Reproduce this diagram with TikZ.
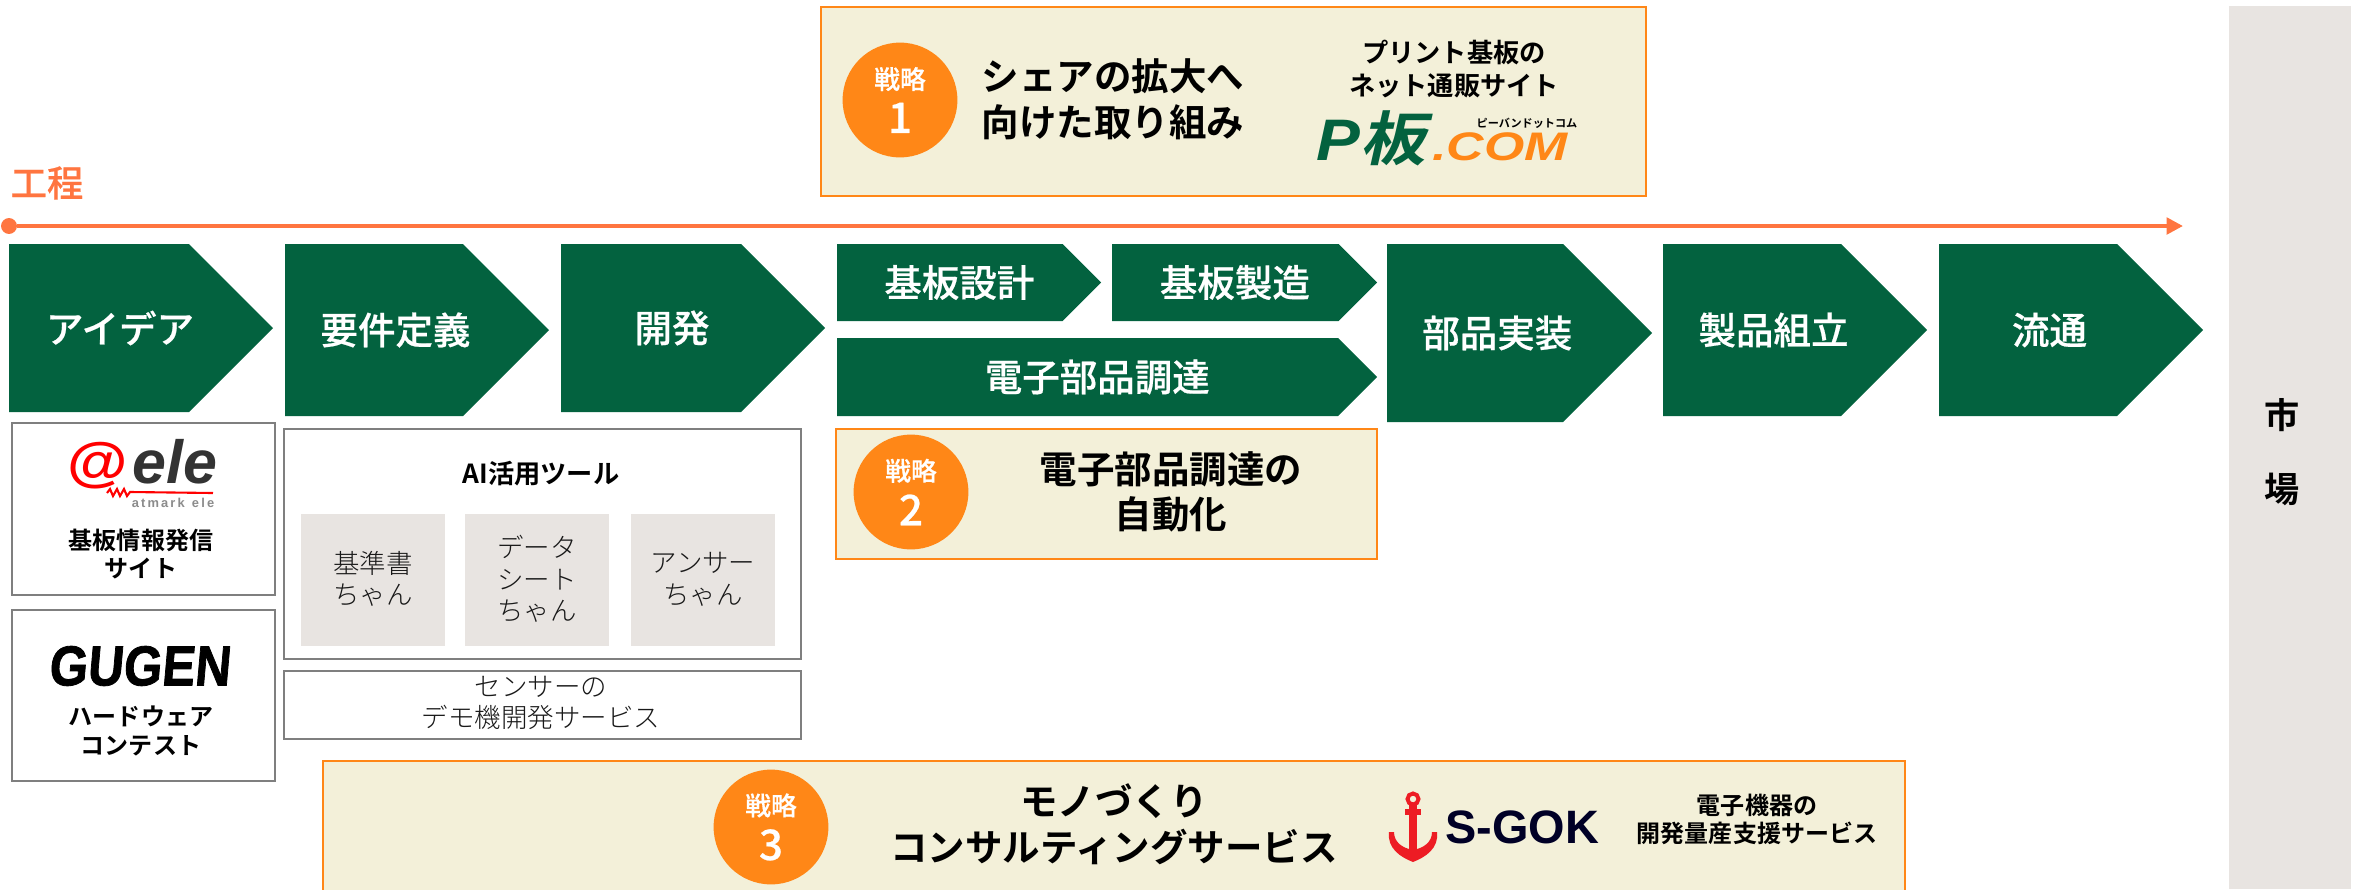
\documentclass[tikz,border=0pt]{standalone}
\usepackage{fontspec}
\setmainfont{Noto Sans CJK JP}[BoldFont={Noto Sans CJK JP Bold}]
\newfontfamily\lightjp{Noto Sans CJK JP Light}
\newfontfamily\mediumjp{Noto Sans CJK JP Medium}[FakeBold=0.5]
\newfontfamily\logoslant{Liberation Sans Bold Italic}
\newfontfamily\logoupright{Liberation Sans Bold}
\newfontfamily\gugenfont{Liberation Sans Bold}[FakeSlant=0.1,FakeBold=1.5]
\usetikzlibrary{arrows.meta}
\definecolor{stepgreen}{HTML}{03623F}
\definecolor{lineorange}{HTML}{FF7540}
\definecolor{markorange}{HTML}{FF8717}
\definecolor{panelcream}{HTML}{F3F0D9}
\definecolor{tilegrey}{HTML}{E8E4E1}
\definecolor{framegrey}{HTML}{7F7F7F}
\definecolor{logored}{HTML}{ED1C24}
\tikzset{
  steplabel/.style={text=white,font=\fontsize{32}{36}\selectfont\mediumjp},
  panel/.style={draw=markorange,line width=2.3pt,fill=panelcream},
  boxframe/.style={draw=framegrey,line width=2.5pt,fill=white},
  tile/.style={fill=tilegrey},
  badge/.style={circle,fill=markorange,inner sep=0pt,minimum size=98pt,text=white,align=center},
  lead/.style={align=center,font=\fontsize{32}{39}\selectfont\bfseries},
  notetext/.style={align=center,font=\fontsize{20.5}{24}\selectfont\bfseries},
  lighttext/.style={align=center,text=black!90,font=\fontsize{22.6}{27}\selectfont\lightjp},
}
% pentagon: name, left, tip, top, bottom, text
\newcommand{\stepshape}[6]{
  \fill[stepgreen] (#2,#4) -- ({#3-(#5-#4)/2},#4) -- (#3,{(#4+#5)/2}) -- ({#3-(#5-#4)/2},#5) -- (#2,#5) -- cycle;
  \node[steplabel] (#1) at ({(#2+#3)/2-(#5-#4)/8},{(#4+#5)/2}) {#6};
}
\newcommand{\badgetext}[1]{{\fontsize{22}{26}\selectfont\mediumjp 戦略}\\[9pt]{\fontsize{36}{30}\selectfont\mediumjp #1}}
\begin{document}
\begin{tikzpicture}[x=0.03cm,y=-0.03cm]
    \useasboundingbox (0,0) rectangle (2366,889);

    % process line
    \node[lineorange,font=\fontsize{31}{36}\selectfont\mediumjp] (koutei) at (47,183) {工程};
    \node[circle,fill=lineorange,inner sep=0pt,minimum size=13.6pt] (linestart) at (9,226) {};
    \coordinate (lineend) at (2183,226);
    \draw[lineorange,line width=3.4pt,-{Triangle[length=14pt,width=14pt]}] (linestart) -- (lineend);

    \stepshape{idea}{9}{273}{244}{412}{アイデア}
    \stepshape{youken}{285}{549}{244}{416}{要件定義}
    \stepshape{kaihatsu}{561}{825}{244}{412}{開発}
    \stepshape{sekkei}{837}{1101}{244}{321}{基板設計}
    \stepshape{seizou}{1112}{1377}{244}{321}{基板製造}
    \stepshape{chotatsu}{837}{1377}{338}{416}{電子部品調達}
    \stepshape{jisso}{1387}{1652}{244}{422}{部品実装}
    \stepshape{kumitate}{1663}{1927}{244}{416}{製品組立}
    \stepshape{ryutsu}{1939}{2203}{244}{416}{流通}

    % market
    \fill[tilegrey] (2229,6) rectangle (2351,889);
    \node[font=\fontsize{30}{36}\selectfont\bfseries] (ichi) at (2282,415) {市};
    \node[font=\fontsize{30}{36}\selectfont\bfseries] (ba) at (2282,489) {場};

    % strategy 1
    \draw[panel] (821,7) rectangle (1646,196);
    \node[badge] (badgeone) at (900,100) {\badgetext{1}};
    \node[lead] (shareup) at (1113,99) {シェアの拡大へ\\向けた取り組み};
    \node[notetext,font=\fontsize{22.4}{28}\selectfont\bfseries] (pcbsite) at (1454,69) {プリント基板の\\ネット通販サイト};
    \node[stepgreen,inner sep=0pt,anchor=west,xscale=1.12,font=\fontsize{50}{50}\selectfont\logoslant] (pban) at (1316,138) {P{\fontspec{Noto Sans CJK JP Bold}[FakeSlant=0.2]板}};
    \node[markorange,inner sep=0pt,anchor=west,xscale=1.3,font=\fontsize{34}{34}\selectfont\logoslant] (pcom) at (1432,147) {.COM};
    \node[inner sep=0pt,font=\fontsize{9.5}{12}\selectfont\bfseries] (pruby) at (1527,123) {ピーバンドットコム};

    % strategy 2
    \draw[panel] (836,429) rectangle (1377,559);
    \node[badge] (badgetwo) at (911,492) {\badgetext{2}};
    \node[lead] (auto) at (1171,492) {電子部品調達の\\自動化};

    % strategy 3
    \draw[panel] (323,761) rectangle (1905,900);
    \node[badge] (badgethree) at (771,827) {\badgetext{3}};
    \node[lead] (consult) at (1114,824) {モノづくり\\コンサルティングサービス};
    \fill[logored] (1405,809) rectangle (1421,815);
    \fill[logored] (1409,805) rectangle (1417,855);
    \draw[logored,line width=3.4pt] (1413,799) circle (5.5);
    \fill[logored] (1389,832) .. controls (1387,848) and (1400,857) .. (1413,862)
      .. controls (1426,857) and (1439,848) .. (1437,832) -- (1432,832)
      .. controls (1432,842) and (1424,848) .. (1413,850)
      .. controls (1402,848) and (1394,842) .. (1394,832) -- cycle;
    \node[inner sep=0pt,anchor=west,text=black!85!blue,font=\fontsize{40}{40}\selectfont\logoupright] (sgok) at (1445,827) {S-GOK};
    \node[notetext] (massprod) at (1757,819) {電子機器の\\開発量産支援サービス};

    % left boxes
    \draw[boxframe] (12,423) rectangle (275,595);
    \node[inner sep=0pt,xscale=1.15,text=red,font=\fontsize{46}{46}\selectfont\logoupright] (atmark) at (98,466) {@};
    \node[inner sep=0pt,anchor=west,text=black!80,font=\fontsize{52}{52}\selectfont\logoslant] (ele) at (132,462) {ele};
    \draw[red,line width=1.8pt] (107,493) -- (110,489) -- (113,496) -- (117,489) -- (120,496) -- (124,489) -- (127,496) -- (130,492) -- (213,493);
    \node[inner sep=0pt,text=black!45,font=\fontsize{11}{12}\selectfont\logoupright] (atmarkele) at (173,503) {a\,t\,m\,a\,r\,k\ \ e\,l\,e};
    \node[notetext] (kiban) at (141,554) {基板情報発信\\サイト};

    \draw[boxframe] (12,610) rectangle (275,781);
    \node[inner sep=0pt,xscale=0.88,font=\fontsize{48}{48}\selectfont\gugenfont] (gugen) at (139,666) {GUGEN};
    \node[notetext] (contest) at (141,731) {ハードウェア\\コンテスト};

    % AI tools
    \draw[boxframe] (284,429) rectangle (801,659);
    \node[notetext,font=\fontsize{22.4}{24}\selectfont\bfseries] (aitools) at (541,474) {AI活用ツール};
    \fill[tile] (301,514) rectangle (445,646);
    \fill[tile] (465,514) rectangle (609,646);
    \fill[tile] (631,514) rectangle (775,646);
    \node[lighttext] (kijun) at (373,579) {基準書\\ちゃん};
    \node[lighttext] (datasheet) at (537,579) {データ\\シート\\ちゃん};
    \node[lighttext] (answer) at (703,579) {アンサー\\ちゃん};

    \draw[boxframe] (284,671) rectangle (801,739);
    \node[lighttext] (sensor) at (541,703) {センサーの\\デモ機開発サービス};
\end{tikzpicture}
\end{document}
